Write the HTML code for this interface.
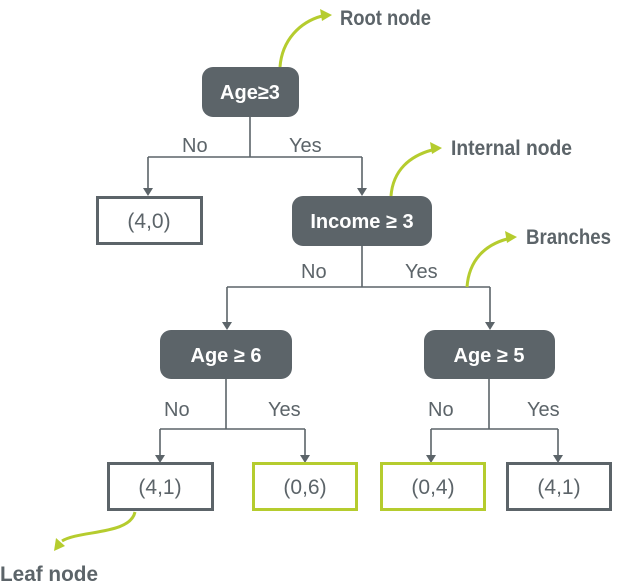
<!DOCTYPE html>
<html><head><meta charset="utf-8"><style>
html,body{margin:0;padding:0;background:#fff;}
svg{display:block;}
.lbl{font-family:"Liberation Sans Narrow","Liberation Sans",sans-serif;font-size:20px;fill:#5c6469;}
.nd{font-family:"Liberation Sans Narrow","Liberation Sans",sans-serif;font-size:20px;font-weight:bold;fill:#fff;}
.ann{font-family:"Liberation Sans Narrow","Liberation Sans",sans-serif;font-size:21px;font-weight:bold;fill:#5c6469;}
.lf{font-family:"Liberation Sans",sans-serif;font-size:21px;fill:#5c6469;}
</style></head><body>
<svg width="628" height="587" viewBox="0 0 628 587" xmlns="http://www.w3.org/2000/svg">
<g stroke="#5c6469" stroke-width="1.6" fill="none">
<path d="M250 116V157M148 157H362M148 157V190M362 157V190"/>
<path d="M362 246V287M227 287H490M227 287V324M490 287V324"/>
<path d="M226 379V429M160 429H305M160 429V456M305 429V456"/>
<path d="M489 379V429M431 429H558M431 429V456M558 429V456"/>
</g>
<g fill="#5c6469">
<path d="M143 188h10l-5 8z"/><path d="M357 188h10l-5 8z"/>
<path d="M222 322h10l-5 8z"/><path d="M485 322h10l-5 8z"/>
<path d="M155 455h10l-5 8z"/><path d="M300 455h10l-5 8z"/>
<path d="M426 455h10l-5 8z"/><path d="M553 455h10l-5 8z"/>
</g>
<g fill="#5c6469">
<rect x="202" y="67" width="97" height="50" rx="11"/>
<rect x="292" y="196" width="140" height="50" rx="11"/>
<rect x="160" y="330" width="132" height="49" rx="11"/>
<rect x="424" y="330" width="131" height="49" rx="11"/>
</g>
<g fill="#fff" stroke-width="3">
<rect x="97.5" y="197.5" width="104" height="46" stroke="#5c6469"/>
<rect x="108.5" y="463.5" width="104" height="46" stroke="#5c6469"/>
<rect x="253.5" y="463.5" width="103" height="46" stroke="#b5cc2e"/>
<rect x="381.5" y="463.5" width="103" height="46" stroke="#b5cc2e"/>
<rect x="507.5" y="463.5" width="103" height="46" stroke="#5c6469"/>
</g>
<g text-anchor="middle">
<text class="nd" x="250" y="99">Age≥3</text>
<text class="nd" x="362" y="228">Income ≥ 3</text>
<text class="nd" x="226" y="362">Age ≥ 6</text>
<text class="nd" x="489" y="362">Age ≥ 5</text>
<text class="lf" x="149" y="228">(4,0)</text>
<text class="lf" x="160" y="494">(4,1)</text>
<text class="lf" x="305" y="494">(0,6)</text>
<text class="lf" x="433" y="494">(0,4)</text>
<text class="lf" x="559" y="494">(4,1)</text>
</g>
<text class="lbl" x="182" y="152">No</text>
<text class="lbl" x="289" y="152">Yes</text>
<text class="lbl" x="301" y="278">No</text>
<text class="lbl" x="405" y="278">Yes</text>
<text class="lbl" x="164" y="416">No</text>
<text class="lbl" x="268" y="416">Yes</text>
<text class="lbl" x="428" y="416">No</text>
<text class="lbl" x="527" y="416">Yes</text>
<g stroke="#b5cc2e" stroke-width="3" fill="none">
<path d="M280 67C282 40 300 22 322 16"/>
<path d="M391 196C393 170 410 156 432 150"/>
<path d="M467 287C469 260 485 245 507 239"/>
<path d="M135 512C130 535 80 530 62 541"/>
</g>
<g fill="#b5cc2e">
<path d="M332 15l-12 -6l2 12z"/>
<path d="M442 148l-12 -6l2 12z"/>
<path d="M517 237l-12 -6l2 12z"/>
<path d="M54 551l2 -13l9 8z"/>
</g>
<text class="ann" x="340" y="25" textLength="91" lengthAdjust="spacingAndGlyphs">Root node</text>
<text class="ann" x="451" y="155" textLength="121" lengthAdjust="spacingAndGlyphs">Internal node</text>
<text class="ann" x="526" y="244" textLength="85" lengthAdjust="spacingAndGlyphs">Branches</text>
<text class="ann" x="0" y="581" textLength="98" lengthAdjust="spacingAndGlyphs">Leaf node</text>
</svg>
</body></html>
